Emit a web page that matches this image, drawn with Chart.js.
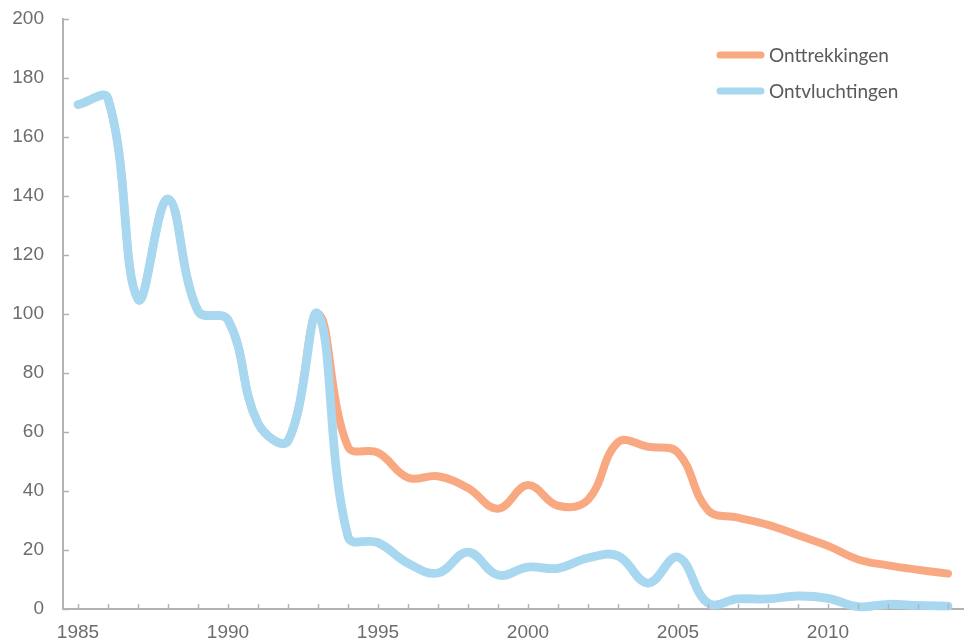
<!DOCTYPE html>
<html><head><meta charset="utf-8">
<script src="https://cdn.jsdelivr.net/npm/chart.js@4/dist/chart.umd.min.js"></script>
<style>html,body{margin:0;padding:0;background:#fff}#wrap{width:964px;height:643px;position:relative}</style>
</head><body><div id="wrap"><canvas id="c"></canvas></div>
<script>
const years = ['1985','1986','1987','1988','1989','1990','1991','1992','1993','1994','1995','1996','1997','1998','1999','2000','2001','2002','2003','2004','2005','2006','2007','2008','2009','2010','2011','2012','2013','2014'];
const xTickLabels = ['1985','1990','1995','2000','2005','2010'];
const yTicks = [0,20,40,60,80,100,120,140,160,180,200];
const seriesNames = ['Onttrekkingen','Ontvluchtingen'];
const onttrekkingen = [171,173,105,139,101,98,63,57,100,55,53,44.5,45,41,34,42,35,37,56.5,55,53,33.5,31,28.5,25,21.4,16.8,14.8,13.3,12];
const ontvluchtingen = [171,173,105,139,101,98,63,57,100,24.5,22.5,15.5,12.2,19.3,11.5,14.2,13.8,17.3,18,8.8,17.6,2,3.4,3.4,4.4,3.6,0.8,1.6,1.2,1];

const axisColor = '#b3b3b7';
const textColor = '#6d6d6d';
const colors = ['#f8a981','#a8d8f0'];

const decor = {
  id: 'decor',
  afterDraw(chart) {
    const ctx = chart.ctx, xs = chart.scales.x, ys = chart.scales.y, a = chart.chartArea;
    ctx.save();
    ctx.strokeStyle = axisColor; ctx.lineWidth = 1.5;
    ctx.beginPath();
    xs.ticks.forEach((t, i) => { const px = Math.round(xs.getPixelForTick(i)) + 0.5; ctx.moveTo(px, a.bottom); ctx.lineTo(px, a.bottom - 5); });
    ys.ticks.forEach((t, i) => { const py = Math.round(ys.getPixelForTick(i)) + 0.5; ctx.moveTo(a.left, py); ctx.lineTo(a.left + 6, py); });
    ctx.stroke();
    // legend
    const lx0 = 717, lx1 = 764, ly = [55, 91];
    ctx.font = '19px Lato, "Open Sans", sans-serif';
    ctx.textBaseline = 'middle'; ctx.textAlign = 'left';
    chart.data.datasets.forEach((ds, i) => {
      ctx.strokeStyle = ds.borderColor; ctx.lineWidth = 7; ctx.lineCap = 'round';
      ctx.beginPath(); ctx.moveTo(lx0 + 3, ly[i]); ctx.lineTo(lx1 - 3, ly[i]); ctx.stroke();
      ctx.fillStyle = '#5a5a5a';
      ctx.fillText(ds.label, lx1 + 5, ly[i] + 1);
    });
    ctx.restore();
  }
};

new Chart(document.getElementById('c'), {
  type: 'line',
  data: {
    labels: years,
    datasets: [
      { label: seriesNames[0], data: onttrekkingen, borderColor: colors[0], backgroundColor: colors[0], borderWidth: 8, pointRadius: 0, tension: 0.4, borderCapStyle: 'round', borderJoinStyle: 'round', order: 2, clip: false },
      { label: seriesNames[1], data: ontvluchtingen, borderColor: colors[1], backgroundColor: colors[1], borderWidth: 8.8, pointRadius: 0, tension: 0.4, borderCapStyle: 'round', borderJoinStyle: 'round', order: 1, clip: false }
    ]
  },
  options: {
    responsive: true, maintainAspectRatio: false, animation: false,
    layout: { autoPadding: false, padding: { top: 19, right: 1, left: 0, bottom: 0 } },
    plugins: { legend: { display: false }, tooltip: { enabled: false } },
    scales: {
      x: {
        offset: true,
        grid: { display: false, offset: false, drawTicks: false },
        border: { display: true, color: axisColor, width: 2 },
        ticks: { autoSkip: false, maxRotation: 0, padding: 12, color: textColor, font: { family: '"Liberation Sans", Arial, sans-serif', size: 19 },
          callback: function(v, i) { const l = years[i]; return xTickLabels.includes(l) ? l : ''; } },
        afterFit(s) { s.height = 34; s.paddingLeft = 0; s.paddingRight = 0; }
      },
      y: {
        min: 0, max: 200,
        grid: { display: false, drawTicks: false },
        border: { display: true, color: axisColor, width: 2 },
        afterBuildTicks(s) { s.ticks = yTicks.map(v => ({ value: v })); },
        ticks: { padding: 19, color: textColor, font: { family: '"Liberation Sans", Arial, sans-serif', size: 19 } },
        afterFit(s) { s.width = 63; s.paddingTop = 0; s.paddingBottom = 0; }
      }
    }
  },
  plugins: [decor]
});
</script>
</body></html>
